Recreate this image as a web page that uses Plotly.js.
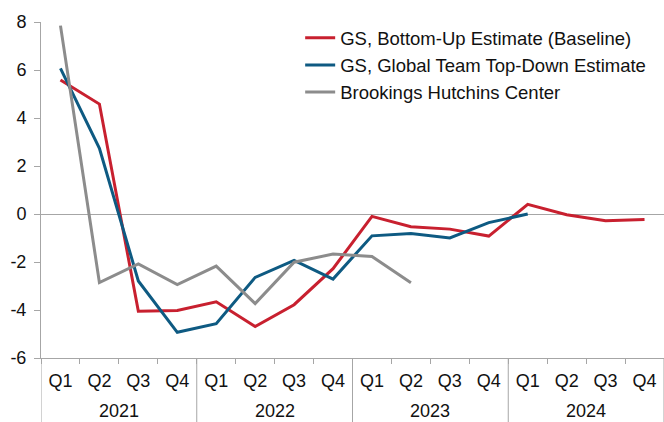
<!DOCTYPE html>
<html>
<head>
<meta charset="utf-8">
<script src="https://cdn.plot.ly/plotly-3.0.1.min.js"></script>
<style>html,body{margin:0;padding:0;background:#fff;}#chart{width:664px;height:422px;}</style>
</head>
<body>
<div id="chart"></div>
<script>
const years = ['2021','2021','2021','2021','2022','2022','2022','2022','2023','2023','2023','2023','2024','2024','2024','2024'];
const quarters = ['Q1','Q2','Q3','Q4','Q1','Q2','Q3','Q4','Q1','Q2','Q3','Q4','Q1','Q2','Q3','Q4'];

const gsBottomUp = [5.58, 4.58, -4.05, -4.02, -3.66, -4.69, -3.78, -2.28, -0.10, -0.53, -0.63, -0.92, 0.40, -0.03, -0.28, -0.23];
const gsTopDown  = [6.07, 2.74, -2.79, -4.93, -4.57, -2.64, -1.93, -2.71, -0.91, -0.81, -1.00, -0.36, 0.00, null, null, null];
const brookings  = [7.85, -2.86, -2.08, -2.94, -2.17, -3.73, -2.01, -1.67, -1.77, -2.86, null, null, null, null, null, null];

const yTickVals = [-6, -4, -2, 0, 2, 4, 6, 8];
const yTickText = ['-6', '-4', '-2', '0', '2', '4', '6', '8'];

const axisGray = '#a6a6a6';
// unique category keys (year + quarter), shown as quarter labels
const cats = years.map((y, i) => y + ' ' + quarters[i]);

const traces = [
  {name: 'GS, Bottom-Up Estimate (Baseline)', x: cats, y: gsBottomUp, type: 'scatter', mode: 'lines', line: {color: '#c8202f', width: 3}},
  {name: 'GS, Global Team Top-Down Estimate', x: cats, y: gsTopDown, type: 'scatter', mode: 'lines', line: {color: '#0e5a82', width: 3}},
  {name: 'Brookings Hutchins Center', x: cats, y: brookings, type: 'scatter', mode: 'lines', line: {color: '#8c8c8c', width: 3}}
];

// year groups: label at the centre of each group, divider at each group boundary
const groups = [];
years.forEach((y, i) => {
  const g = groups[groups.length - 1];
  if (g && g.year === y) { g.end = i; } else { groups.push({year: y, start: i, end: i}); }
});
const annotations = groups.map(g => ({
  text: g.year, xref: 'x', yref: 'paper', x: (g.start + g.end) / 2, y: -0.1905,
  xanchor: 'center', yanchor: 'bottom', showarrow: false, borderpad: 0,
  font: {size: 18, color: '#111'}
}));
const shapes = [];
groups.forEach((g, k) => {
  shapes.push({type: 'line', xref: 'x', yref: 'paper', x0: g.start - 0.5, x1: g.start - 0.5, y0: 0, y1: -0.2,
    line: {color: axisGray, width: 1}});
  if (k === groups.length - 1) {
    shapes.push({type: 'line', xref: 'x', yref: 'paper', x0: g.end + 0.5, x1: g.end + 0.5, y0: 0, y1: -0.2,
      line: {color: axisGray, width: 1}});
  }
});

const layout = {
  width: 664, height: 422,
  margin: {l: 41, r: 0, t: 22, b: 64},
  paper_bgcolor: '#fff', plot_bgcolor: '#fff',
  font: {family: '"Liberation Sans", Arial, sans-serif', size: 18, color: '#111'},
  showlegend: true,
  legend: {x: 0.416, y: 1.008, xanchor: 'left', yanchor: 'top', bgcolor: 'rgba(0,0,0,0)', font: {size: 18.5}},
  annotations: annotations,
  shapes: shapes,
  xaxis: {
    type: 'category', range: [-0.5, 15.5],
    tickmode: 'array', tickvals: cats, ticktext: quarters,
    showline: true, linecolor: axisGray, linewidth: 1,
    ticks: 'outside', tickson: 'boundaries', ticklen: 5, tickcolor: axisGray,
    ticklabelstandoff: 6,
    showgrid: false, zeroline: false
  },
  yaxis: {
    range: [-6, 8], tickmode: 'array', tickvals: yTickVals, ticktext: yTickText,
    showline: true, linecolor: axisGray, linewidth: 1,
    ticks: 'outside', ticklen: 6, tickcolor: axisGray,
    ticklabelstandoff: 4,
    showgrid: false, zeroline: true, zerolinecolor: axisGray, zerolinewidth: 1
  }
};

Plotly.newPlot('chart', traces, layout, {displayModeBar: false, staticPlot: true});
</script>
</body>
</html>
